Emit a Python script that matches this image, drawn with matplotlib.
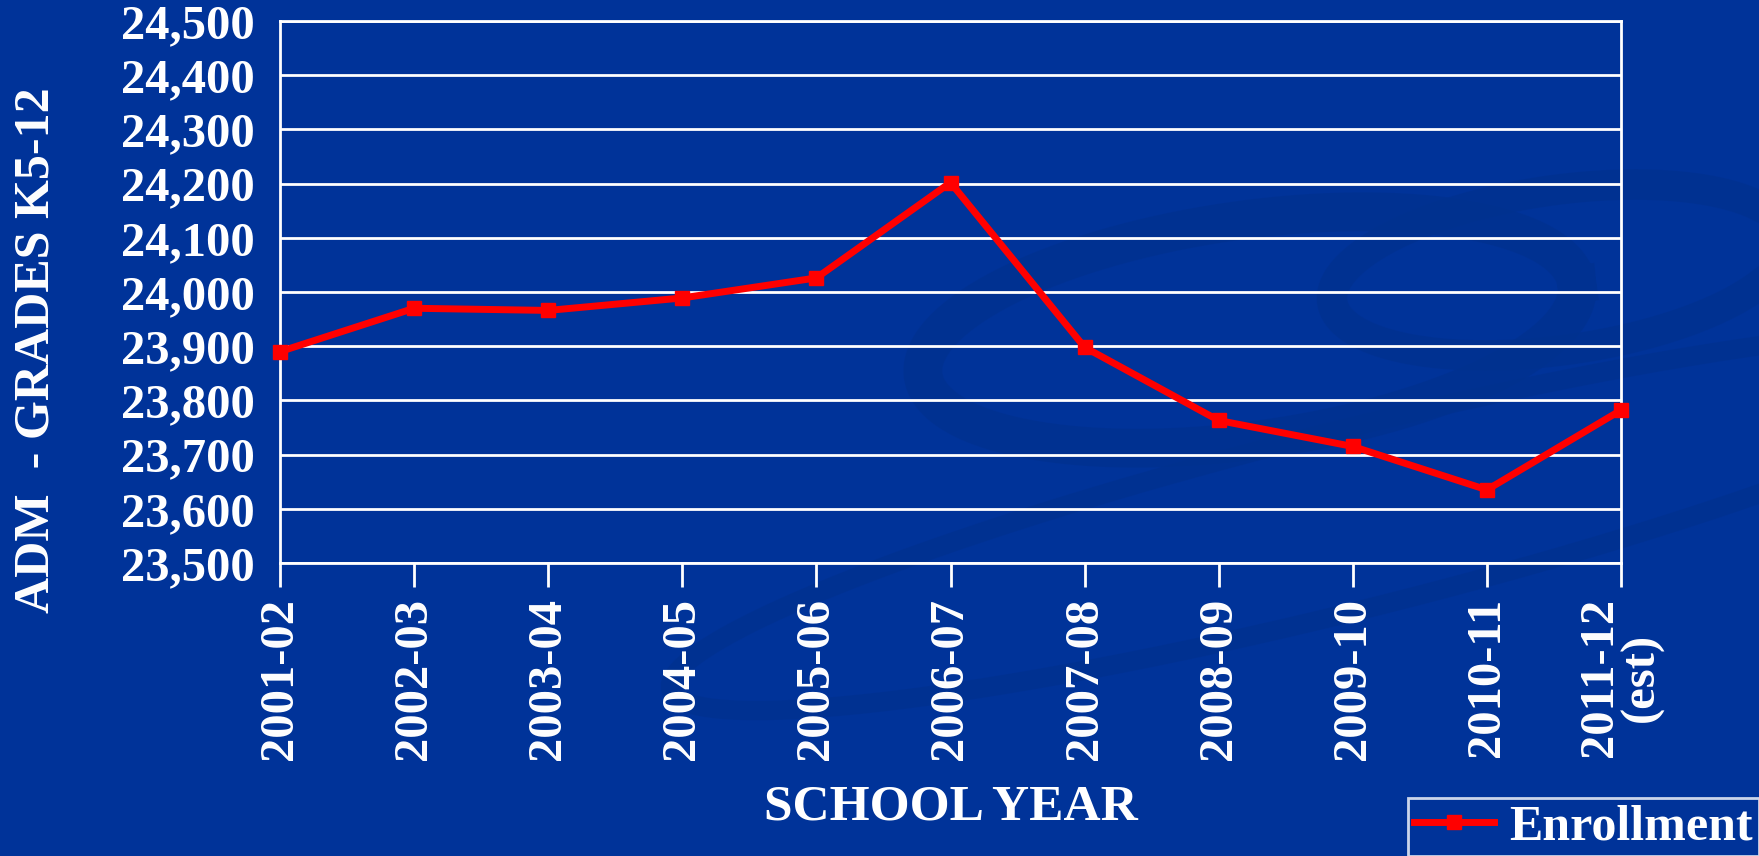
"""plot.py
ADM enrollment line chart
"""
import numpy as np
import matplotlib
matplotlib.use('Agg')
import matplotlib.pyplot as plt
from matplotlib.ticker import FuncFormatter

years = ['2001-02', '2002-03', '2003-04', '2004-05', '2005-06', '2006-07',
         '2007-08', '2008-09', '2009-10', '2010-11', '2011-12\n(est)']
enrollment = [23890, 23970, 23966, 23989, 24026, 24202,
              23898, 23763, 23715, 23635, 23782]

BG = '#003399'

plt.rcParams['font.family'] = ['Liberation Serif', 'DejaVu Serif']
plt.rcParams['font.weight'] = 'bold'

fig = plt.figure(figsize=(17.59, 8.56), dpi=100, facecolor=BG)
ax = fig.add_axes([280 / 1759, 1 - 563 / 856, (1621 - 280) / 1759, (563 - 21) / 856])
ax.set_facecolor('none')

# decorative swooshes in the background
t = np.linspace(0, 2 * np.pi, 400)
for cx, cy, rx, ry, ang, lw in [(1250, 330, 330, 110, -8, 28),
                                (1560, 270, 230, 80, -8, 22),
                                (1350, 520, 700, 90, -14, 14)]:
    a = np.deg2rad(ang)
    xs = cx + rx * np.cos(t) * np.cos(a) - ry * np.sin(t) * np.sin(a)
    ys = cy + rx * np.cos(t) * np.sin(a) + ry * np.sin(t) * np.cos(a)
    fig.add_artist(plt.Line2D(xs / 1759, 1 - ys / 856, transform=fig.transFigure,
                              color='#00318f', lw=lw, alpha=0.7, zorder=0))

x = np.arange(len(years))
ax.plot(x, enrollment, color='#ff0000', lw=5, marker='s', markersize=10,
        label='Enrollment', zorder=5, clip_on=False)

ax.set_xlim(0, len(years) - 1)
ax.set_ylim(23500, 24500)
ax.set_yticks(np.arange(23500, 24501, 100))
ax.yaxis.set_major_formatter(FuncFormatter(lambda v, p: f'{int(v):,}'))
ax.set_xticks(x)
ax.set_xticklabels(years, rotation=90, va='top', ha='center', linespacing=0.95)
ax.grid(axis='y', color='white', lw=2)
ax.set_axisbelow(True)

for s in ax.spines.values():
    s.set_color('white')
    s.set_linewidth(2)

ax.tick_params(axis='x', colors='white', labelsize=35, length=17, width=2, pad=8)
ax.tick_params(axis='y', colors='white', labelsize=35, length=0, pad=18)
for lbl in ax.get_xticklabels() + ax.get_yticklabels():
    lbl.set_fontweight('bold')

fig.text(37 / 1759, 1 - 350 / 856, 'ADM  - GRADES K5-12', rotation=90,
         color='white', fontsize=36, fontweight='bold', ha='center', va='center')
fig.text(951 / 1759, 1 - 808 / 856, 'SCHOOL YEAR', color='white', fontsize=37,
         fontweight='bold', ha='center', va='center')

leg = fig.legend(loc='lower right', bbox_to_anchor=(1.0, 0.0), frameon=True,
                 fontsize=36, handlelength=1.6, borderpad=0.12, handletextpad=0.3,
                 borderaxespad=0.0, fancybox=False)
leg.get_frame().set_facecolor(BG)
leg.get_frame().set_edgecolor('white')
leg.get_frame().set_linewidth(2)
for txt in leg.get_texts():
    txt.set_color('white')
    txt.set_fontweight('bold')

fig.savefig('out.png', dpi=100, facecolor=BG)
